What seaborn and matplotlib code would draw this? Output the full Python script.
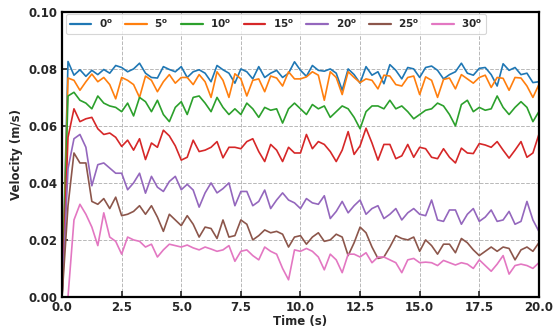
import numpy as np
import pandas as pd
import matplotlib
matplotlib.use("Agg")
import matplotlib.pyplot as plt
from matplotlib.ticker import FormatStrFormatter
import seaborn as sns

# Sampling instants (s)
time_s = np.linspace(0.0, 20.0, 81)

# Inclination angles (degrees)
angles = ["0", "5", "10", "15", "20", "25", "30"]

# Velocity (m/s) for each inclination
vel_0 = [0.0000, 0.0826, 0.0778, 0.0797, 0.0774, 0.0795, 0.0780, 0.0798, 0.0785, 0.0812, 0.0805,
         0.0790, 0.0800, 0.0820, 0.0785, 0.0770, 0.0768, 0.0808, 0.0798, 0.0790, 0.0808,
         0.0770, 0.0790, 0.0797, 0.0785, 0.0755, 0.0812, 0.0797, 0.0785, 0.0750, 0.0800,
         0.0790, 0.0765, 0.0808, 0.0770, 0.0785, 0.0795, 0.0770, 0.0785, 0.0825, 0.0795,
         0.0774, 0.0812, 0.0795, 0.0792, 0.0800, 0.0785, 0.0725, 0.0800, 0.0780, 0.0750,
         0.0808, 0.0778, 0.0790, 0.0748, 0.0815, 0.0795, 0.0765, 0.0805, 0.0800, 0.0770,
         0.0805, 0.0810, 0.0795, 0.0765, 0.0780, 0.0790, 0.0820, 0.0785, 0.0778, 0.0802,
         0.0805, 0.0780, 0.0740, 0.0818, 0.0795, 0.0805, 0.0780, 0.0785, 0.0752, 0.0755]
vel_5 = [0.0000, 0.0768, 0.0760, 0.0725, 0.0755, 0.0782, 0.0755, 0.0770, 0.0745, 0.0695, 0.0770,
         0.0760, 0.0745, 0.0700, 0.0775, 0.0760, 0.0720, 0.0755, 0.0780, 0.0750, 0.0770,
         0.0770, 0.0745, 0.0780, 0.0755, 0.0700, 0.0790, 0.0760, 0.0700, 0.0783, 0.0765,
         0.0705, 0.0760, 0.0765, 0.0720, 0.0775, 0.0768, 0.0740, 0.0790, 0.0765, 0.0765,
         0.0772, 0.0790, 0.0778, 0.0690, 0.0790, 0.0770, 0.0710, 0.0790, 0.0770, 0.0752,
         0.0765, 0.0760, 0.0730, 0.0778, 0.0775, 0.0745, 0.0740, 0.0770, 0.0775, 0.0710,
         0.0772, 0.0760, 0.0700, 0.0763, 0.0768, 0.0730, 0.0780, 0.0765, 0.0750, 0.0770,
         0.0778, 0.0735, 0.0770, 0.0767, 0.0725, 0.0770, 0.0768, 0.0740, 0.0700, 0.0745]
vel_10 = [0.0000, 0.0705, 0.0718, 0.0690, 0.0680, 0.0660, 0.0705, 0.0680, 0.0670, 0.0665, 0.0650,
          0.0680, 0.0635, 0.0700, 0.0685, 0.0650, 0.0690, 0.0640, 0.0615, 0.0665, 0.0685,
          0.0640, 0.0700, 0.0705, 0.0680, 0.0650, 0.0700, 0.0665, 0.0640, 0.0660, 0.0640,
          0.0680, 0.0660, 0.0630, 0.0665, 0.0655, 0.0660, 0.0610, 0.0660, 0.0680, 0.0660,
          0.0640, 0.0675, 0.0660, 0.0670, 0.0630, 0.0650, 0.0670, 0.0660, 0.0630, 0.0590,
          0.0650, 0.0670, 0.0670, 0.0660, 0.0690, 0.0660, 0.0670, 0.0650, 0.0625, 0.0640,
          0.0655, 0.0660, 0.0680, 0.0670, 0.0640, 0.0600, 0.0675, 0.0690, 0.0650, 0.0665,
          0.0655, 0.0660, 0.0705, 0.0665, 0.0640, 0.0665, 0.0685, 0.0665, 0.0615, 0.0650]
vel_15 = [0.0000, 0.0560, 0.0660, 0.0615, 0.0625, 0.0630, 0.0590, 0.0570, 0.0575, 0.0560, 0.0528,
          0.0550, 0.0515, 0.0555, 0.0482, 0.0540, 0.0525, 0.0585, 0.0565, 0.0530, 0.0480,
          0.0490, 0.0550, 0.0510, 0.0515, 0.0525, 0.0545, 0.0488, 0.0525, 0.0525, 0.0520,
          0.0545, 0.0555, 0.0510, 0.0475, 0.0535, 0.0515, 0.0475, 0.0525, 0.0505, 0.0505,
          0.0570, 0.0520, 0.0545, 0.0535, 0.0510, 0.0475, 0.0515, 0.0580, 0.0500, 0.0530,
          0.0592, 0.0540, 0.0480, 0.0535, 0.0535, 0.0485, 0.0495, 0.0535, 0.0490, 0.0525,
          0.0520, 0.0490, 0.0485, 0.0520, 0.0490, 0.0470, 0.0522, 0.0505, 0.0503, 0.0538,
          0.0533, 0.0525, 0.0545, 0.0515, 0.0487, 0.0515, 0.0545, 0.0490, 0.0505, 0.0570]
vel_20 = [0.0000, 0.0450, 0.0555, 0.0570, 0.0525, 0.0390, 0.0464, 0.0470, 0.0452, 0.0434, 0.0434,
          0.0376, 0.0400, 0.0434, 0.0364, 0.0423, 0.0385, 0.0370, 0.0405, 0.0423, 0.0376,
          0.0395, 0.0375, 0.0315, 0.0365, 0.0400, 0.0365, 0.0380, 0.0400, 0.0320, 0.0370,
          0.0370, 0.0320, 0.0335, 0.0375, 0.0310, 0.0340, 0.0365, 0.0340, 0.0330, 0.0310,
          0.0345, 0.0330, 0.0325, 0.0355, 0.0275, 0.0300, 0.0335, 0.0295, 0.0320, 0.0340,
          0.0290, 0.0310, 0.0320, 0.0275, 0.0290, 0.0310, 0.0270, 0.0295, 0.0310, 0.0290,
          0.0285, 0.0340, 0.0270, 0.0265, 0.0305, 0.0305, 0.0255, 0.0290, 0.0310, 0.0265,
          0.0280, 0.0305, 0.0265, 0.0270, 0.0300, 0.0255, 0.0265, 0.0335, 0.0270, 0.0230]
vel_25 = [0.0000, 0.0320, 0.0505, 0.0470, 0.0470, 0.0335, 0.0325, 0.0345, 0.0310, 0.0350, 0.0285,
          0.0290, 0.0300, 0.0320, 0.0290, 0.0320, 0.0280, 0.0230, 0.0290, 0.0270, 0.0250,
          0.0285, 0.0255, 0.0210, 0.0245, 0.0240, 0.0205, 0.0270, 0.0210, 0.0215, 0.0270,
          0.0255, 0.0200, 0.0215, 0.0235, 0.0225, 0.0230, 0.0220, 0.0175, 0.0210, 0.0215,
          0.0185, 0.0210, 0.0225, 0.0195, 0.0200, 0.0220, 0.0210, 0.0145, 0.0190, 0.0245,
          0.0225, 0.0175, 0.0135, 0.0140, 0.0175, 0.0215, 0.0205, 0.0200, 0.0210, 0.0160,
          0.0200, 0.0180, 0.0150, 0.0185, 0.0185, 0.0155, 0.0205, 0.0190, 0.0165, 0.0145,
          0.0160, 0.0175, 0.0160, 0.0175, 0.0170, 0.0130, 0.0165, 0.0175, 0.0160, 0.0190]
vel_30 = [0.0000, 0.0000, 0.0270, 0.0325, 0.0290, 0.0245, 0.0180, 0.0295, 0.0210, 0.0195, 0.0150,
          0.0210, 0.0200, 0.0195, 0.0175, 0.0185, 0.0140, 0.0165, 0.0185, 0.0180, 0.0175,
          0.0182, 0.0172, 0.0165, 0.0175, 0.0168, 0.0160, 0.0165, 0.0180, 0.0125, 0.0160,
          0.0165, 0.0145, 0.0130, 0.0175, 0.0160, 0.0150, 0.0100, 0.0060, 0.0165, 0.0160,
          0.0170, 0.0160, 0.0140, 0.0095, 0.0150, 0.0130, 0.0085, 0.0150, 0.0150, 0.0140,
          0.0155, 0.0120, 0.0140, 0.0140, 0.0130, 0.0120, 0.0085, 0.0130, 0.0135, 0.0120,
          0.0122, 0.0120, 0.0110, 0.0128, 0.0120, 0.0112, 0.0120, 0.0115, 0.0100, 0.0130,
          0.0110, 0.0090, 0.0115, 0.0145, 0.0080, 0.0110, 0.0115, 0.0110, 0.0100, 0.0120]

x_ticks = [0.0, 2.5, 5.0, 7.5, 10.0, 12.5, 15.0, 17.5, 20.0]
y_ticks = [0.00, 0.02, 0.04, 0.06, 0.08, 0.10]

series = [vel_0, vel_5, vel_10, vel_15, vel_20, vel_25, vel_30]
labels = [r"$\mathbf{%s^o}$" % a for a in angles]

frames = []
for lab, vals in zip(labels, series):
    frames.append(pd.DataFrame({"Time": time_s, "Velocity": vals, "Angle": lab}))
data = pd.concat(frames, ignore_index=True)

sns.set_style("ticks")
plt.rcParams["font.family"] = ["DejaVu Sans"]
plt.rcParams["font.weight"] = "bold"
plt.rcParams["axes.labelweight"] = "bold"
plt.rcParams["mathtext.default"] = "bf"

fig = plt.figure(figsize=(5.59, 3.31), dpi=100)
ax = fig.add_axes([0.111, 0.103, 0.853, 0.861])

palette = sns.color_palette("tab10", 7)
sns.lineplot(data=data, x="Time", y="Velocity", hue="Angle", hue_order=labels,
             palette=palette, linewidth=1.2, estimator=None, sort=False, ax=ax)

ax.set_xlim(0, 20)
ax.set_ylim(0, 0.10)
ax.set_xticks(x_ticks)
ax.set_yticks(y_ticks)
ax.xaxis.set_major_formatter(FormatStrFormatter("%.1f"))
ax.yaxis.set_major_formatter(FormatStrFormatter("%.2f"))
ax.tick_params(direction="in", length=4, width=1.2, labelsize=8.5, pad=3)
for lbl in ax.get_xticklabels() + ax.get_yticklabels():
    lbl.set_fontweight("bold")

ax.grid(True, linestyle="--", color="#b8b8b8", linewidth=0.7)
for sp in ax.spines.values():
    sp.set_linewidth(1.6)
    sp.set_color("black")

ax.set_xlabel("Time (s)", fontsize=8.5, fontweight="bold", labelpad=1)
ax.set_ylabel("Velocity (m/s)", fontsize=8.5, fontweight="bold", labelpad=4)

leg = ax.legend(ncol=7, loc="upper left", bbox_to_anchor=(0.008, 0.993),
                fontsize=7.5, handlelength=2.1, columnspacing=1.2, handletextpad=0.7,
                borderaxespad=0.0, frameon=True, fancybox=True, edgecolor="#cccccc",
                borderpad=0.35)
leg.get_frame().set_linewidth(0.8)
for line in leg.get_lines():
    line.set_linewidth(1.6)

fig.savefig("out.png", dpi=100)
